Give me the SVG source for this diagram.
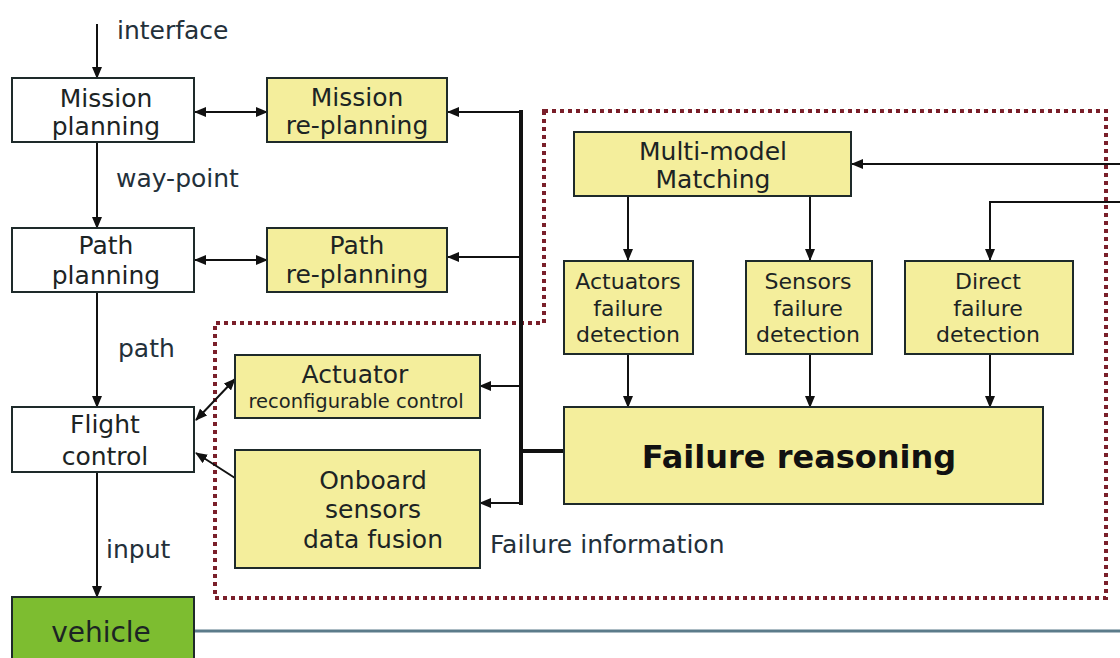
<svg xmlns="http://www.w3.org/2000/svg" width="1120" height="658" viewBox="0 0 1120 658">
<defs>
<marker id="ah" markerUnits="userSpaceOnUse" markerWidth="12" markerHeight="10" refX="11" refY="5" orient="auto-start-reverse">
<path d="M0,0 L12,5 L0,10 Z" fill="#111"/>
</marker>
</defs>
<style>
text{font-family:"DejaVu Sans","Verdana",sans-serif;fill:#1c2424;text-anchor:middle}
.lbl{font-size:25px;text-anchor:start;fill:#23303a}
.box{stroke:#1e2a2a;stroke-width:2}
.w{fill:#ffffff}
.y{fill:#f4ee9c}
.g{fill:#7dbd30}
.t{font-size:25px}
.s{font-size:22px}
.xs{font-size:19.5px}
.b{font-size:32px;font-weight:bold;fill:#111}
.ln{stroke:#111;stroke-width:2;fill:none}
.bus{stroke:#111;stroke-width:4;fill:none}
.dot{stroke:#7a1f2a;stroke-width:4;stroke-dasharray:4 4;fill:none}
</style>
<rect width="1120" height="658" fill="#ffffff"/>
<path class="dot" d="M544 111 H1106 V598 H215 V323 H544 Z"/>
<g id="connectors">
<line class="ln" x1="97" y1="24" x2="97" y2="78" marker-end="url(#ah)"/>
<line class="ln" x1="97" y1="142" x2="97" y2="228" marker-end="url(#ah)"/>
<line class="ln" x1="97" y1="292" x2="97" y2="407" marker-end="url(#ah)"/>
<line class="ln" x1="97" y1="472" x2="97" y2="597" marker-end="url(#ah)"/>
<line class="ln" x1="195" y1="112" x2="267" y2="112" marker-start="url(#ah)" marker-end="url(#ah)"/>
<line class="ln" x1="195" y1="260" x2="267" y2="260" marker-start="url(#ah)" marker-end="url(#ah)"/>
<line class="ln" x1="196" y1="420" x2="235" y2="379" marker-start="url(#ah)" marker-end="url(#ah)"/>
<line class="ln" x1="235" y1="478" x2="196" y2="453" marker-end="url(#ah)"/>
<line class="bus" x1="521" y1="110" x2="521" y2="505"/>
<line class="bus" x1="521" y1="451" x2="564" y2="451"/>
<line class="ln" x1="521" y1="112" x2="448" y2="112" marker-end="url(#ah)"/>
<line class="ln" x1="521" y1="257" x2="448" y2="257" marker-end="url(#ah)"/>
<line class="ln" x1="521" y1="386" x2="480" y2="386" marker-end="url(#ah)"/>
<line class="ln" x1="521" y1="503" x2="480" y2="503" marker-end="url(#ah)"/>
<line class="ln" x1="1120" y1="164" x2="852" y2="164" marker-end="url(#ah)"/>
<path class="ln" d="M1120 202 H990 V260" marker-end="url(#ah)"/>
<line class="ln" x1="628" y1="196" x2="628" y2="260" marker-end="url(#ah)"/>
<line class="ln" x1="810" y1="196" x2="810" y2="260" marker-end="url(#ah)"/>
<line class="ln" x1="628" y1="354" x2="628" y2="407" marker-end="url(#ah)"/>
<line class="ln" x1="810" y1="354" x2="810" y2="407" marker-end="url(#ah)"/>
<line class="ln" x1="990" y1="354" x2="990" y2="407" marker-end="url(#ah)"/>
<line x1="195" y1="631" x2="1120" y2="631" stroke="#5b7b8a" stroke-width="3"/>
</g>
<text class="lbl" x="117" y="39">interface</text>
<text class="lbl" x="116" y="187">way-point</text>
<text class="lbl" x="118" y="357">path</text>
<text class="lbl" x="106" y="558">input</text>
<text class="lbl" x="490" y="553">Failure information</text>
<g id="mission-planning">
<rect class="box w" x="12" y="78" width="182" height="64"/>
<text class="t" x="106" y="107">Mission</text>
<text class="t" x="106" y="135">planning</text>
</g>
<g id="mission-replanning">
<rect class="box y" x="267" y="78" width="180" height="64"/>
<text class="t" x="357" y="106">Mission</text>
<text class="t" x="357" y="134">re-planning</text>
</g>
<g id="path-planning">
<rect class="box w" x="12" y="228" width="182" height="64"/>
<text class="t" x="106" y="254">Path</text>
<text class="t" x="106" y="284">planning</text>
</g>
<g id="path-replanning">
<rect class="box y" x="267" y="228" width="180" height="64"/>
<text class="t" x="357" y="254">Path</text>
<text class="t" x="357" y="283">re-planning</text>
</g>
<g id="flight-control">
<rect class="box w" x="12" y="407" width="182" height="65"/>
<text class="t" x="105" y="433">Flight</text>
<text class="t" x="105" y="465">control</text>
</g>
<g id="vehicle">
<rect class="box g" x="12" y="597" width="182" height="70"/>
<text x="101" y="642" style="font-size:28px">vehicle</text>
</g>
<g id="actuator-control">
<rect class="box y" x="235" y="355" width="245" height="63"/>
<text class="t" x="355" y="383">Actuator</text>
<text class="xs" x="356" y="408">reconfigurable control</text>
</g>
<g id="onboard-fusion">
<rect class="box y" x="235" y="450" width="245" height="118"/>
<text class="t" x="373" y="489">Onboard</text>
<text class="t" x="373" y="518">sensors</text>
<text class="t" x="373" y="548">data fusion</text>
</g>
<g id="multi-model">
<rect class="box y" x="574" y="132" width="277" height="64"/>
<text class="t" x="713" y="160">Multi-model</text>
<text class="t" x="713" y="188">Matching</text>
</g>
<g id="actuators-failure">
<rect class="box y" x="564" y="261" width="129" height="93"/>
<text class="s" x="628" y="289">Actuators</text>
<text class="s" x="628" y="316">failure</text>
<text class="s" x="628" y="342">detection</text>
</g>
<g id="sensors-failure">
<rect class="box y" x="746" y="261" width="126" height="93"/>
<text class="s" x="808" y="289">Sensors</text>
<text class="s" x="808" y="316">failure</text>
<text class="s" x="808" y="342">detection</text>
</g>
<g id="direct-failure">
<rect class="box y" x="905" y="261" width="168" height="93"/>
<text class="s" x="988" y="289">Direct</text>
<text class="s" x="988" y="316">failure</text>
<text class="s" x="988" y="342">detection</text>
</g>
<g id="failure-reasoning">
<rect class="box y" x="564" y="407" width="479" height="97"/>
<text class="b" x="799" y="468">Failure reasoning</text>
</g>
</svg>
